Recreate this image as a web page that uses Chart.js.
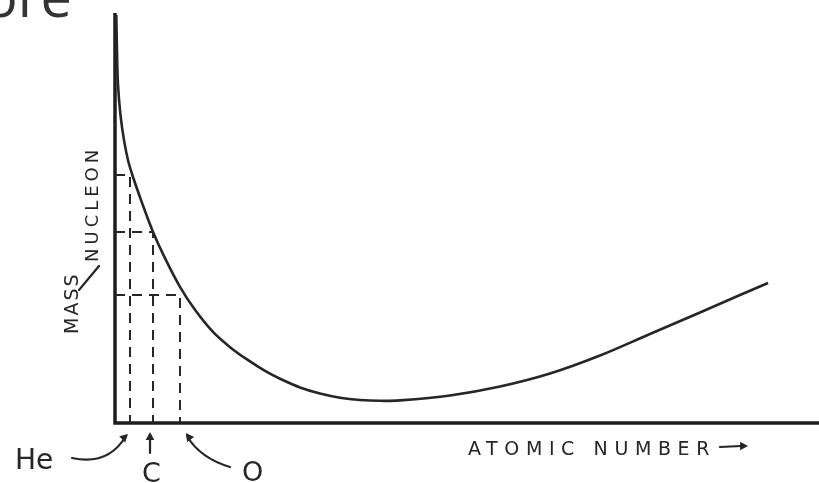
<!DOCTYPE html>
<html>
<head>
<meta charset="utf-8">
<script src="https://cdn.jsdelivr.net/npm/chart.js@4/dist/chart.umd.min.js"></script>
<style>
html,body{margin:0;padding:0;background:#fff;}
#wrap{width:819px;height:483px;position:relative;}
</style>
</head>
<body>
<div id="wrap"><canvas id="c" width="819" height="483"></canvas></div>
<script>
// Sketch curve: mass per nucleon vs atomic number (arbitrary sketch units)
const curveX = [0.18, 0.28, 0.43, 0.78, 1.28, 1.85, 2.56, 3.84, 5.40, 7.10, 9.23, 11.36, 13.92, 16.34, 18.75, 21.31, 23.44, 26.28, 29.12, 31.96, 34.80, 37.64, 40.48, 47.59, 54.69, 61.79, 68.89, 75.99, 83.10, 88.78, 92.76];
const curveY = [99.5, 91.0, 82.4, 75.1, 69.0, 64.1, 60.0, 53.7, 46.6, 40.2, 33.2, 27.6, 22.2, 18.5, 15.5, 12.7, 10.8, 8.68, 7.20, 6.17, 5.61, 5.41, 5.51, 6.71, 8.90, 12.07, 16.46, 21.71, 26.95, 31.22, 34.15];
// Marked elements
const elements = ["He", "C", "O"];
const elementX = [2.13, 5.40, 9.23];
const elementY = [60.5, 46.6, 31.2];
const axisMax = 100;

const ink = '#262626';
const datasets = [];
datasets.push({
  data: curveX.map((x, i) => ({x, y: curveY[i]})),
  borderColor: ink, borderWidth: 2.6, pointRadius: 0, tension: 0.35, clip: false
});
elements.forEach((el, i) => {
  datasets.push({
    data: [{x: 0, y: elementY[i]}, {x: elementX[i], y: elementY[i]}, {x: elementX[i], y: 0}],
    borderColor: ink, borderWidth: 2, borderDash: [10, 7], pointRadius: 0, tension: 0, clip: false
  });
});
// axes drawn as lines
datasets.push({
  data: [{x: 0, y: axisMax}, {x: 0, y: 0}, {x: axisMax, y: 0}],
  borderColor: '#1e1e1e', borderWidth: 3.5, pointRadius: 0, tension: 0, clip: false
});

const labelsPlugin = {
  id: 'sketchLabels',
  afterDraw(chart) {
    const ctx = chart.ctx;
    const xs = chart.scales.x, ys = chart.scales.y;
    ctx.save();
    ctx.fillStyle = '#333';
    ctx.font = '56px "Open Sans", sans-serif';
    ctx.textBaseline = 'alphabetic';
    ctx.fillText('ore', -16, 17);

    ctx.fillStyle = ink;
    ctx.strokeStyle = ink;
    ctx.lineWidth = 2.2;
    ctx.lineCap = 'round';
    // y label
    ctx.save();
    ctx.translate(78, 334);
    ctx.rotate(-Math.PI / 2);
    ctx.font = '19px "DejaVu Sans", sans-serif';
    ctx.letterSpacing = '2px';
    ctx.fillText('MASS', 0, 0);
    ctx.restore();
    ctx.beginPath(); ctx.moveTo(79, 290); ctx.lineTo(99, 266); ctx.stroke();
    ctx.save();
    ctx.translate(98, 262);
    ctx.rotate(-Math.PI / 2);
    ctx.font = '18px "DejaVu Sans", sans-serif';
    ctx.letterSpacing = '4px';
    ctx.fillText('NUCLEON', 0, 0);
    ctx.restore();

    // element labels
    ctx.font = '28px "DejaVu Sans", sans-serif';
    ctx.fillText(elements[0], 15, 469);
    ctx.font = '27px "DejaVu Sans", sans-serif';
    ctx.fillText(elements[1], 142, 482);
    ctx.fillText(elements[2], 242, 481);

    const bx = (i) => xs.getPixelForValue(elementX[i]);
    const by = ys.getPixelForValue(0);
    function head(x, y, ang) {
      ctx.beginPath();
      ctx.moveTo(x, y);
      ctx.lineTo(x + 9 * Math.cos(ang + 0.5), y + 9 * Math.sin(ang + 0.5));
      ctx.lineTo(x + 9 * Math.cos(ang - 0.5), y + 9 * Math.sin(ang - 0.5));
      ctx.closePath(); ctx.fill();
    }
    // He arrow
    ctx.beginPath(); ctx.moveTo(72, 458); ctx.quadraticCurveTo(108, 466, bx(0) - 4, by + 13); ctx.stroke();
    head(bx(0) - 2, by + 11, 2.4);
    // C arrow
    ctx.beginPath(); ctx.moveTo(bx(1) - 3, by + 30); ctx.lineTo(bx(1) - 3, by + 12); ctx.stroke();
    head(bx(1) - 3, by + 9, Math.PI / 2);
    // O arrow
    ctx.beginPath(); ctx.moveTo(230, 467); ctx.quadraticCurveTo(200, 458, bx(2) + 7, by + 13); ctx.stroke();
    head(bx(2) + 6, by + 10, 0.95);

    // x label
    ctx.font = '19px "DejaVu Sans", sans-serif';
    ctx.letterSpacing = '6.6px';
    ctx.fillText('ATOMIC NUMBER', 468, 455);
    ctx.letterSpacing = '0px';
    ctx.beginPath(); ctx.moveTo(720, 447); ctx.lineTo(741, 446); ctx.stroke();
    head(748, 446, Math.PI);
    ctx.restore();
  }
};

new Chart(document.getElementById('c'), {
  type: 'line',
  data: {datasets},
  options: {
    responsive: false, animation: false,
    layout: {padding: {left: 115, right: 0, top: 13, bottom: 60}},
    plugins: {legend: {display: false}, tooltip: {enabled: false}},
    scales: {
      x: {type: 'linear', min: 0, max: axisMax, display: false},
      y: {type: 'linear', min: 0, max: axisMax, display: false}
    }
  },
  plugins: [labelsPlugin]
});
</script>
</body>
</html>
